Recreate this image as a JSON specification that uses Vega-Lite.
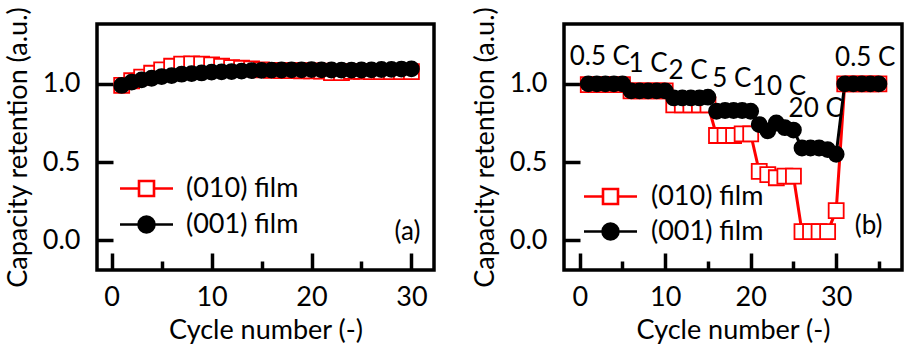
{
  "$schema": "https://vega.github.io/schema/vega-lite/v6.json",
  "padding": {"left": 2, "top": 4, "right": 4, "bottom": 2},
  "spacing": 33,
  "config": {
    "font": "Lato",
    "view": {"stroke": "black", "strokeWidth": 3.5},
    "axis": {
      "domain": false, "grid": false, "tickColor": "black", "tickWidth": 3.5,
      "labelFont": "Lato", "labelFontSize": 27, "labelColor": "black",
      "titleFont": "Lato", "titleFontSize": 27, "titleFontWeight": "normal", "titleColor": "black"
    },
    "legend": {"labelFont": "Lato", "labelFontSize": 27, "labelColor": "black", "symbolStrokeWidth": 2.6, "symbolOpacity": 1},
    "text": {"font": "Lato", "fontSize": 26, "color": "black"}
  },
  "datasets": {
    "a": [
      {"cycle": 1, "val": 0.99, "series": "(010) film"},
      {"cycle": 2, "val": 1.02, "series": "(010) film"},
      {"cycle": 3, "val": 1.043, "series": "(010) film"},
      {"cycle": 4, "val": 1.068, "series": "(010) film"},
      {"cycle": 5, "val": 1.09, "series": "(010) film"},
      {"cycle": 6, "val": 1.113, "series": "(010) film"},
      {"cycle": 7, "val": 1.126, "series": "(010) film"},
      {"cycle": 8, "val": 1.128, "series": "(010) film"},
      {"cycle": 9, "val": 1.126, "series": "(010) film"},
      {"cycle": 10, "val": 1.121, "series": "(010) film"},
      {"cycle": 11, "val": 1.113, "series": "(010) film"},
      {"cycle": 12, "val": 1.104, "series": "(010) film"},
      {"cycle": 13, "val": 1.1, "series": "(010) film"},
      {"cycle": 14, "val": 1.096, "series": "(010) film"},
      {"cycle": 15, "val": 1.09, "series": "(010) film"},
      {"cycle": 16, "val": 1.087, "series": "(010) film"},
      {"cycle": 17, "val": 1.085, "series": "(010) film"},
      {"cycle": 18, "val": 1.085, "series": "(010) film"},
      {"cycle": 19, "val": 1.084, "series": "(010) film"},
      {"cycle": 20, "val": 1.083, "series": "(010) film"},
      {"cycle": 21, "val": 1.082, "series": "(010) film"},
      {"cycle": 22, "val": 1.072, "series": "(010) film"},
      {"cycle": 23, "val": 1.072, "series": "(010) film"},
      {"cycle": 24, "val": 1.08, "series": "(010) film"},
      {"cycle": 25, "val": 1.08, "series": "(010) film"},
      {"cycle": 26, "val": 1.079, "series": "(010) film"},
      {"cycle": 27, "val": 1.079, "series": "(010) film"},
      {"cycle": 28, "val": 1.078, "series": "(010) film"},
      {"cycle": 29, "val": 1.078, "series": "(010) film"},
      {"cycle": 30, "val": 1.078, "series": "(010) film"},
      {"cycle": 1, "val": 0.99, "series": "(001) film"},
      {"cycle": 2, "val": 1.011, "series": "(001) film"},
      {"cycle": 3, "val": 1.026, "series": "(001) film"},
      {"cycle": 4, "val": 1.036, "series": "(001) film"},
      {"cycle": 5, "val": 1.047, "series": "(001) film"},
      {"cycle": 6, "val": 1.053, "series": "(001) film"},
      {"cycle": 7, "val": 1.062, "series": "(001) film"},
      {"cycle": 8, "val": 1.066, "series": "(001) film"},
      {"cycle": 9, "val": 1.07, "series": "(001) film"},
      {"cycle": 10, "val": 1.075, "series": "(001) film"},
      {"cycle": 11, "val": 1.077, "series": "(001) film"},
      {"cycle": 12, "val": 1.079, "series": "(001) film"},
      {"cycle": 13, "val": 1.082, "series": "(001) film"},
      {"cycle": 14, "val": 1.085, "series": "(001) film"},
      {"cycle": 15, "val": 1.087, "series": "(001) film"},
      {"cycle": 16, "val": 1.088, "series": "(001) film"},
      {"cycle": 17, "val": 1.089, "series": "(001) film"},
      {"cycle": 18, "val": 1.09, "series": "(001) film"},
      {"cycle": 19, "val": 1.09, "series": "(001) film"},
      {"cycle": 20, "val": 1.091, "series": "(001) film"},
      {"cycle": 21, "val": 1.09, "series": "(001) film"},
      {"cycle": 22, "val": 1.089, "series": "(001) film"},
      {"cycle": 23, "val": 1.088, "series": "(001) film"},
      {"cycle": 24, "val": 1.088, "series": "(001) film"},
      {"cycle": 25, "val": 1.089, "series": "(001) film"},
      {"cycle": 26, "val": 1.09, "series": "(001) film"},
      {"cycle": 27, "val": 1.092, "series": "(001) film"},
      {"cycle": 28, "val": 1.093, "series": "(001) film"},
      {"cycle": 29, "val": 1.095, "series": "(001) film"},
      {"cycle": 30, "val": 1.096, "series": "(001) film"}
    ],
    "b": [
      {"cycle": 1, "val": 0.995, "series": "(010) film"},
      {"cycle": 2, "val": 0.995, "series": "(010) film"},
      {"cycle": 3, "val": 0.995, "series": "(010) film"},
      {"cycle": 4, "val": 0.995, "series": "(010) film"},
      {"cycle": 5, "val": 0.995, "series": "(010) film"},
      {"cycle": 6, "val": 0.955, "series": "(010) film"},
      {"cycle": 7, "val": 0.955, "series": "(010) film"},
      {"cycle": 8, "val": 0.955, "series": "(010) film"},
      {"cycle": 9, "val": 0.955, "series": "(010) film"},
      {"cycle": 10, "val": 0.955, "series": "(010) film"},
      {"cycle": 11, "val": 0.866, "series": "(010) film"},
      {"cycle": 12, "val": 0.866, "series": "(010) film"},
      {"cycle": 13, "val": 0.866, "series": "(010) film"},
      {"cycle": 14, "val": 0.866, "series": "(010) film"},
      {"cycle": 15, "val": 0.866, "series": "(010) film"},
      {"cycle": 16, "val": 0.67, "series": "(010) film"},
      {"cycle": 17, "val": 0.67, "series": "(010) film"},
      {"cycle": 18, "val": 0.67, "series": "(010) film"},
      {"cycle": 19, "val": 0.68, "series": "(010) film"},
      {"cycle": 20, "val": 0.68, "series": "(010) film"},
      {"cycle": 21, "val": 0.44, "series": "(010) film"},
      {"cycle": 22, "val": 0.42, "series": "(010) film"},
      {"cycle": 23, "val": 0.4, "series": "(010) film"},
      {"cycle": 24, "val": 0.41, "series": "(010) film"},
      {"cycle": 25, "val": 0.41, "series": "(010) film"},
      {"cycle": 26, "val": 0.055, "series": "(010) film"},
      {"cycle": 27, "val": 0.055, "series": "(010) film"},
      {"cycle": 28, "val": 0.055, "series": "(010) film"},
      {"cycle": 29, "val": 0.055, "series": "(010) film"},
      {"cycle": 30, "val": 0.19, "series": "(010) film"},
      {"cycle": 31, "val": 1.0, "series": "(010) film"},
      {"cycle": 32, "val": 1.0, "series": "(010) film"},
      {"cycle": 33, "val": 1.0, "series": "(010) film"},
      {"cycle": 34, "val": 1.0, "series": "(010) film"},
      {"cycle": 35, "val": 1.0, "series": "(010) film"},
      {"cycle": 1, "val": 1.0, "series": "(001) film"},
      {"cycle": 2, "val": 1.0, "series": "(001) film"},
      {"cycle": 3, "val": 1.0, "series": "(001) film"},
      {"cycle": 4, "val": 1.0, "series": "(001) film"},
      {"cycle": 5, "val": 1.0, "series": "(001) film"},
      {"cycle": 6, "val": 0.955, "series": "(001) film"},
      {"cycle": 7, "val": 0.955, "series": "(001) film"},
      {"cycle": 8, "val": 0.955, "series": "(001) film"},
      {"cycle": 9, "val": 0.955, "series": "(001) film"},
      {"cycle": 10, "val": 0.955, "series": "(001) film"},
      {"cycle": 11, "val": 0.91, "series": "(001) film"},
      {"cycle": 12, "val": 0.91, "series": "(001) film"},
      {"cycle": 13, "val": 0.91, "series": "(001) film"},
      {"cycle": 14, "val": 0.91, "series": "(001) film"},
      {"cycle": 15, "val": 0.915, "series": "(001) film"},
      {"cycle": 16, "val": 0.825, "series": "(001) film"},
      {"cycle": 17, "val": 0.83, "series": "(001) film"},
      {"cycle": 18, "val": 0.83, "series": "(001) film"},
      {"cycle": 19, "val": 0.83, "series": "(001) film"},
      {"cycle": 20, "val": 0.825, "series": "(001) film"},
      {"cycle": 21, "val": 0.74, "series": "(001) film"},
      {"cycle": 22, "val": 0.7, "series": "(001) film"},
      {"cycle": 23, "val": 0.75, "series": "(001) film"},
      {"cycle": 24, "val": 0.72, "series": "(001) film"},
      {"cycle": 25, "val": 0.705, "series": "(001) film"},
      {"cycle": 26, "val": 0.59, "series": "(001) film"},
      {"cycle": 27, "val": 0.59, "series": "(001) film"},
      {"cycle": 28, "val": 0.59, "series": "(001) film"},
      {"cycle": 29, "val": 0.58, "series": "(001) film"},
      {"cycle": 30, "val": 0.55, "series": "(001) film"},
      {"cycle": 31, "val": 1.0, "series": "(001) film"},
      {"cycle": 32, "val": 1.0, "series": "(001) film"},
      {"cycle": 33, "val": 1.0, "series": "(001) film"},
      {"cycle": 34, "val": 1.0, "series": "(001) film"},
      {"cycle": 35, "val": 1.0, "series": "(001) film"}
    ],
    "ratesB": [
      {"x": 2.35, "y": 1.174, "label": "0.5 C"},
      {"x": 8.0, "y": 1.126, "label": "1 C"},
      {"x": 12.67, "y": 1.083, "label": "2 C"},
      {"x": 17.8, "y": 1.03, "label": "5 C"},
      {"x": 23.3, "y": 0.978, "label": "10 C"},
      {"x": 27.6, "y": 0.838, "label": "20 C"},
      {"x": 33.4, "y": 1.163, "label": "0.5 C"}
    ],
    "tagA": [{"x": 29.6, "y": 0.054, "label": "(a)"}],
    "tagB": [{"x": 33.8, "y": 0.093, "label": "(b)"}]
  },
  "resolve": {
    "scale": {"shape": "independent", "fill": "independent", "stroke": "independent"},
    "legend": {"shape": "independent", "fill": "independent", "stroke": "independent"}
  },
  "hconcat": [
    {
      "width": 337,
      "height": 246,
      "layer": [
        {
          "data": {"name": "a"},
          "mark": {"type": "line", "strokeWidth": 3},
          "encoding": {
            "x": {"field": "cycle", "type": "quantitative", "scale": {"domain": [-1.47, 32.26], "nice": false, "zero": false},
              "axis": {"values": [0, 5, 10, 15, 20, 25, 30], "labelExpr": "datum.value % 10 === 0 ? datum.label : ''",
                "tickSize": {"condition": {"test": "datum.value % 10 === 0", "value": -17}, "value": -9},
                "labelPadding": 31, "title": "Cycle number (-)", "titlePadding": 7}},
            "y": {"field": "val", "type": "quantitative", "scale": {"domain": [-0.19, 1.383], "nice": false, "zero": false},
              "axis": {"values": [0, 0.5, 1], "format": ".1f", "tickSize": -16, "labelPadding": 33,
                "title": "Capacity retention (a.u.)", "titlePadding": 10}},
            "stroke": {"condition": {"test": "datum.series === '(010) film'", "value": "red"}, "value": "black"},
            "detail": {"field": "series", "type": "nominal"}
          }
        },
        {
          "data": {"name": "a"},
          "mark": {"type": "point", "size": 225, "strokeWidth": 1.8, "opacity": 1},
          "encoding": {
            "x": {"field": "cycle", "type": "quantitative"},
            "y": {"field": "val", "type": "quantitative"},
            "shape": {"condition": {"test": "datum.series === '(010) film'", "value": "square"}, "value": "circle"},
            "fill": {"condition": {"test": "datum.series === '(010) film'", "value": "white"}, "value": "black"},
            "stroke": {"condition": {"test": "datum.series === '(010) film'", "value": "red"}, "value": "black"}
          }
        },
        {
          "data": {"name": "a"},
          "transform": [{"filter": "false"}],
          "mark": {"type": "point", "strokeWidth": 2.6, "opacity": 1},
          "encoding": {
            "shape": {"field": "series", "type": "nominal",
              "scale": {"domain": ["(010) film", "(001) film"], "range": ["M-2.65,0H-0.75M0.75,0H2.65M-0.75,-0.75H0.75V0.75H-0.75Z", "M-2.65,0H2.65M0.8,0A0.8,0.8 0 1,1 -0.8,0A0.8,0.8 0 1,1 0.8,0Z"]},
              "legend": {"title": null, "orient": "none", "legendX": 36, "legendY": 151, "padding": 0, "symbolSize": 400,
                "labelOffset": 26, "rowPadding": 8, "labelFontSize": 27}},
            "fill": {"field": "series", "type": "nominal", "scale": {"domain": ["(010) film", "(001) film"], "range": ["white", "black"]}},
            "stroke": {"field": "series", "type": "nominal", "scale": {"domain": ["(010) film", "(001) film"], "range": ["red", "black"]}}
          }
        },
        {
          "data": {"name": "tagA"},
          "mark": {"type": "text", "baseline": "middle", "align": "center"},
          "encoding": {
            "x": {"field": "x", "type": "quantitative"},
            "y": {"field": "y", "type": "quantitative"},
            "text": {"field": "label"}
          }
        }
      ]
    },
    {
      "width": 338,
      "height": 246,
      "layer": [
        {
          "data": {"name": "b"},
          "mark": {"type": "line", "strokeWidth": 3},
          "encoding": {
            "x": {"field": "cycle", "type": "quantitative", "scale": {"domain": [-1.84, 37.7], "nice": false, "zero": false},
              "axis": {"values": [0, 5, 10, 15, 20, 25, 30, 35], "labelExpr": "datum.value % 10 === 0 ? datum.label : ''",
                "tickSize": {"condition": {"test": "datum.value % 10 === 0", "value": -17}, "value": -9},
                "labelPadding": 31, "title": "Cycle number (-)", "titlePadding": 7}},
            "y": {"field": "val", "type": "quantitative", "scale": {"domain": [-0.19, 1.383], "nice": false, "zero": false},
              "axis": {"values": [0, 0.5, 1], "format": ".1f", "tickSize": -16, "labelPadding": 33,
                "title": "Capacity retention (a.u.)", "titlePadding": 10}},
            "stroke": {"condition": {"test": "datum.series === '(010) film'", "value": "red"}, "value": "black"},
            "detail": {"field": "series", "type": "nominal"}
          }
        },
        {
          "data": {"name": "b"},
          "mark": {"type": "point", "size": 225, "strokeWidth": 1.8, "opacity": 1},
          "encoding": {
            "x": {"field": "cycle", "type": "quantitative"},
            "y": {"field": "val", "type": "quantitative"},
            "shape": {"condition": {"test": "datum.series === '(010) film'", "value": "square"}, "value": "circle"},
            "fill": {"condition": {"test": "datum.series === '(010) film'", "value": "white"}, "value": "black"},
            "stroke": {"condition": {"test": "datum.series === '(010) film'", "value": "red"}, "value": "black"}
          }
        },
        {
          "data": {"name": "b"},
          "transform": [{"filter": "false"}],
          "mark": {"type": "point", "strokeWidth": 2.6, "opacity": 1},
          "encoding": {
            "shape": {"field": "series", "type": "nominal",
              "scale": {"domain": ["(010) film", "(001) film"], "range": ["M-2.65,0H-0.75M0.75,0H2.65M-0.75,-0.75H0.75V0.75H-0.75Z", "M-2.65,0H2.65M0.8,0A0.8,0.8 0 1,1 -0.8,0A0.8,0.8 0 1,1 0.8,0Z"]},
              "legend": {"title": null, "orient": "none", "legendX": 33, "legendY": 159, "padding": 0, "symbolSize": 400,
                "labelOffset": 27, "rowPadding": 7, "labelFontSize": 27}},
            "fill": {"field": "series", "type": "nominal", "scale": {"domain": ["(010) film", "(001) film"], "range": ["white", "black"]}},
            "stroke": {"field": "series", "type": "nominal", "scale": {"domain": ["(010) film", "(001) film"], "range": ["red", "black"]}}
          }
        },
        {
          "data": {"name": "ratesB"},
          "mark": {"type": "text", "baseline": "middle", "align": "center"},
          "encoding": {
            "x": {"field": "x", "type": "quantitative"},
            "y": {"field": "y", "type": "quantitative"},
            "text": {"field": "label"}
          }
        },
        {
          "data": {"name": "tagB"},
          "mark": {"type": "text", "baseline": "middle", "align": "center"},
          "encoding": {
            "x": {"field": "x", "type": "quantitative"},
            "y": {"field": "y", "type": "quantitative"},
            "text": {"field": "label"}
          }
        }
      ]
    }
  ]
}
